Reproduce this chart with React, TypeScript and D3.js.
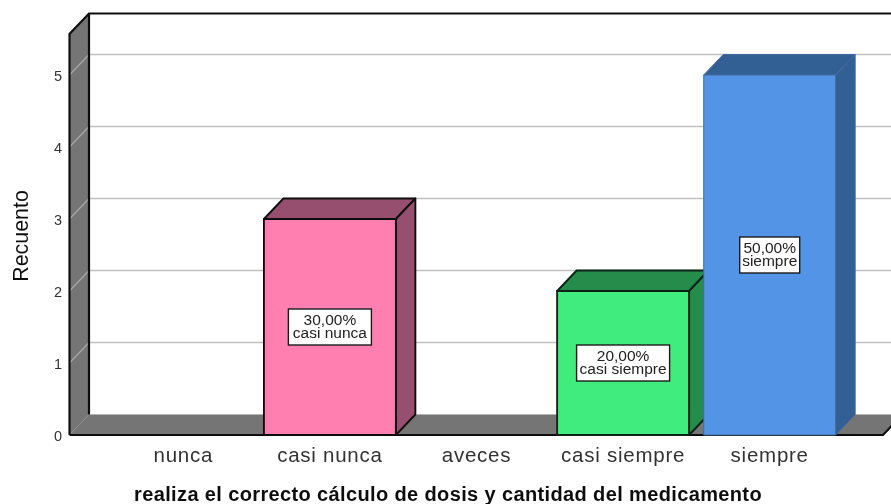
import React from "react";
import * as d3 from "d3";

const categories = ["nunca", "casi nunca", "aveces", "casi siempre", "siempre"];
const counts = [0, 3, 0, 2, 5];
const percents = ["", "30,00%", "", "20,00%", "50,00%"];
const barColors = ["#ffffff", "#ff7fb0", "#ffffff", "#40ec7e", "#5294e6"];
const barDark = ["#888888", "#96506e", "#888888", "#288c4c", "#335e94"];
const barStroke = ["#000", "#111111", "#000", "#0a2414", "#44699c"];
const barStrokeWidth = [0, 1.9, 0, 1.9, 1];
const labelWidths = [0, 83, 0, 93, 60];
const yTicks = [0, 1, 2, 3, 4, 5];

const font = "'Liberation Sans', Arial, sans-serif";
const W = 891, H = 504;
const dx = 19.5, dy = 20.5;

export default function App() {
  const y = d3.scaleLinear().domain([0, 5]).range([435, 75]);
  const x = d3.scaleBand<string>().domain(categories).range([110, 843]).paddingInner(0.1).paddingOuter(0.05);
  const poly = (p: number[][]) => p.map((q) => q.join(",")).join(" ");
  const left = 69.5, right = 883, topFront = 34;
  const base = y(0);
  return (
    <svg width={W} height={H} viewBox={`0 0 ${W} ${H}`} style={{ position: "absolute", left: 0, top: 0, background: "#fff" }}>
      <defs>
        <filter id="soft" x="0" y="0" width="100%" height="100%">
          <feGaussianBlur stdDeviation="0.55" />
        </filter>
      </defs>
      <g filter="url(#soft)">
        <rect width={W} height={H} fill="#fff" />
        {/* left wall */}
        <polygon points={poly([[left, topFront], [left + dx, topFront - dy], [left + dx, base - dy], [left, base]])} fill="#757575" />
        {/* floor */}
        <polygon points={poly([[left, base], [left + dx, base - dy], [right + dx, base - dy], [right, base]])} fill="#757575" />
        {/* gridlines */}
        {yTicks.slice(1).map((t) => (
          <g key={t} fill="none">
            <line x1={left + dx} x2={W} y1={y(t) - dy} y2={y(t) - dy} stroke="#c0c0c0" strokeWidth={1.4} />
            <line x1={left} x2={left + dx} y1={y(t)} y2={y(t) - dy} stroke="#a8a8a8" strokeWidth={1.2} />
          </g>
        ))}
        <line x1={left} x2={left + dx} y1={base} y2={base - dy} stroke="#8c8c8c" strokeWidth={1} />
        <line x1={left + dx} x2={W} y1={base - dy} y2={base - dy} stroke="#b5b5b5" strokeWidth={1} />
        {/* wall outlines */}
        <g stroke="#111" strokeWidth={2.2} fill="none">
          <polyline points={poly([[left, base], [left, topFront], [left + dx, topFront - dy], [W, topFront - dy]])} />
          <line x1={left + dx} x2={left + dx} y1={topFront - dy} y2={base - dy} />
          <polyline points={poly([[left, base], [right, base], [right + dx, base - dy]])} />
        </g>
        {/* bars */}
        {categories.map((c, i) => {
          if (counts[i] === 0) return null;
          const x0 = x(c)!;
          const x1 = x0 + x.bandwidth();
          const yt = y(counts[i]);
          return (
            <g key={c} stroke={barStroke[i]} strokeWidth={barStrokeWidth[i]} strokeLinejoin="round">
              <polygon points={poly([[x0, yt], [x0 + dx, yt - dy], [x1 + dx, yt - dy], [x1, yt]])} fill={barDark[i]} />
              <polygon points={poly([[x1, yt], [x1 + dx, yt - dy], [x1 + dx, base - dy], [x1, base]])} fill={barDark[i]} />
              <rect x={x0} y={yt} width={x.bandwidth()} height={base - yt} fill={barColors[i]} />
            </g>
          );
        })}
        {/* bar labels */}
        {categories.map((c, i) => {
          if (counts[i] === 0) return null;
          const cx = x(c)! + x.bandwidth() / 2;
          const cy = (y(counts[i]) + base) / 2;
          const w = labelWidths[i];
          return (
            <g key={c + "-label"} fontFamily={font} textAnchor="middle" fill="#222">
              <rect x={cx - w / 2} y={cy - 18} width={w} height={36} fill="#fff" stroke="#1a1a1a" strokeWidth={1.4} />
              <text x={cx} y={cy - 2} fontSize={15.5}>{percents[i]}</text>
              <text x={cx} y={cy + 11} fontSize={15.5}>{c}</text>
            </g>
          );
        })}
        {/* y tick labels */}
        {yTicks.map((t) => (
          <text key={t} x={62} y={y(t) + 6} textAnchor="end" fontFamily={font} fontSize={14.5} fill="#333">{t}</text>
        ))}
        {/* category labels */}
        {categories.map((c) => (
          <text key={c + "-tick"} x={x(c)! + x.bandwidth() / 2} y={462} textAnchor="middle" fontFamily={font} fontSize={20.5} letterSpacing={0.75} fill="#333">{c}</text>
        ))}
        <text x={448} y={501} textAnchor="middle" fontFamily={font} fontSize={20} letterSpacing={0.37} fontWeight="bold" fill="#111">realiza el correcto cálculo de dosis y cantidad del medicamento</text>
        <text transform="translate(28,236) rotate(-90)" textAnchor="middle" fontFamily={font} fontSize={21.4} fill="#111">Recuento</text>
      </g>
    </svg>
  );
}
